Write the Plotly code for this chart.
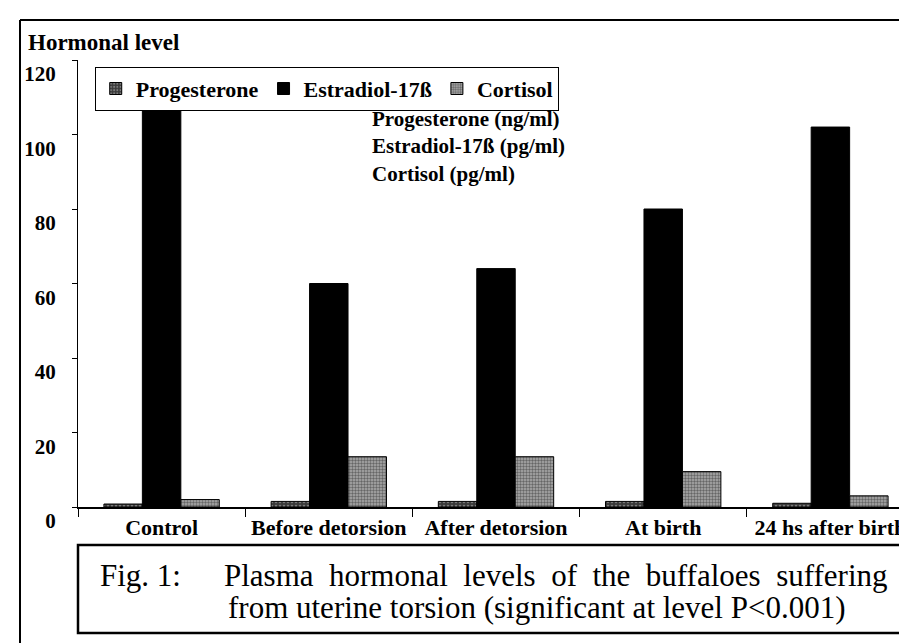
import plotly.graph_objects as go

categories = ["Control", "Before detorsion", "After detorsion", "At birth", "24 hs after birth"]
progesterone = [0.8, 1.5, 1.5, 1.5, 1.0]
estradiol = [107, 60, 64, 80, 102]
cortisol = [2, 13.5, 13.5, 9.5, 3]
y_ticks = [0, 20, 40, 60, 80, 100, 120]

FONT = "Liberation Serif"
NB = "\u00a0"

fig = go.Figure()
fig.add_trace(go.Bar(
    name="Progesterone", x=categories, y=progesterone,
    marker=dict(color="#3a3a3a", line=dict(color="black", width=1),
                pattern=dict(shape=".", fgcolor="#bbbbbb", bgcolor="#3a3a3a", size=4, solidity=0.3)),
))
fig.add_trace(go.Bar(
    name="Estradiol-17ß", x=categories, y=estradiol,
    marker=dict(color="black", line=dict(color="black", width=1)),
))
fig.add_trace(go.Bar(
    name="Cortisol", x=categories, y=cortisol,
    marker=dict(color="#999999", line=dict(color="black", width=1),
                pattern=dict(shape=".", fgcolor="#222222", bgcolor="#ababab", size=3, solidity=0.5)),
))

fig.update_layout(
    width=907, height=643,
    margin=dict(l=70, r=1, t=52, b=144),
    paper_bgcolor="white", plot_bgcolor="white",
    barmode="group", bargap=0.31, bargroupgap=0,
    font=dict(family=FONT, color="black", size=18),
    showlegend=True,
    legend=dict(orientation="h", x=0.02, y=0.985, xanchor="left", yanchor="top",
                bordercolor="black", borderwidth=1, bgcolor="white",
                font=dict(family=FONT, size=22, weight="bold"),
                itemwidth=30, tracegroupgap=0, traceorder="normal"),
    xaxis=dict(showline=True, linecolor="black", linewidth=2, ticks="outside",
               tickson="boundaries", ticklen=8, tickcolor="black",
               tickfont=dict(family=FONT, size=22, weight="bold"), showgrid=False),
    yaxis=dict(range=[0, 120], tickvals=y_ticks, showline=True, linecolor="black", linewidth=1,
               ticks="outside", ticklen=5, tickcolor="black", showgrid=False, zeroline=False,
               tickfont=dict(family=FONT, size=21, weight="bold"), ticklabelshift=14,
               ticklabelstandoff=12),
)

fig.add_annotation(text="<b>Hormonal level</b>", xref="paper", yref="paper",
                   x=(18 - 70) / 836, y=(499 - 34) / 447, xanchor="left", yanchor="middle",
                   showarrow=False, font=dict(family=FONT, size=23))
fig.add_annotation(text="<b>Progesterone (ng/ml)<br>Estradiol-17ß (pg/ml)<br>Cortisol (pg/ml)</b>",
                   xref="paper", yref="paper", x=(362 - 70) / 836, y=(499 - 97) / 447,
                   xanchor="left", yanchor="top", align="left", showarrow=False,
                   font=dict(family=FONT, size=21))

# caption box
fig.add_shape(type="rect", xref="paper", yref="paper",
              x0=0, x1=(894 - 70) / 836, y0=(499 - 625) / 447, y1=(499 - 537) / 447,
              line=dict(color="black", width=2.5), fillcolor="rgba(0,0,0,0)")
fig.add_annotation(text="Fig." + NB + "1:", xref="paper", yref="paper",
                   x=(90 - 70) / 836, y=(499 - 567) / 447, xanchor="left", yanchor="middle",
                   showarrow=False, font=dict(family=FONT, size=31))
line1 = (NB + NB).join("Plasma hormonal levels of the buffaloes suffering".split(" "))
line2 = "from uterine torsion (significant at level P<0.001)"
fig.add_annotation(text=line1, xref="paper", yref="paper",
                   x=(214 - 70) / 836, y=(499 - 567) / 447, xanchor="left", yanchor="middle",
                   showarrow=False, font=dict(family=FONT, size=31))
fig.add_annotation(text=line2, xref="paper", yref="paper",
                   x=(218 - 70) / 836, y=(499 - 599) / 447, xanchor="left", yanchor="middle",
                   showarrow=False, font=dict(family=FONT, size=31))

# scanned frame lines
fig.add_shape(type="line", xref="paper", yref="paper", x0=(12 - 70) / 836, x1=1.01,
              y0=(499 - 12) / 447, y1=(499 - 12) / 447, line=dict(color="black", width=2))
fig.add_shape(type="line", xref="paper", yref="paper", x0=(12 - 70) / 836, x1=(12 - 70) / 836,
              y0=(499 - 12) / 447, y1=(499 - 650) / 447, line=dict(color="black", width=2))

fig.write_html("out.html")
